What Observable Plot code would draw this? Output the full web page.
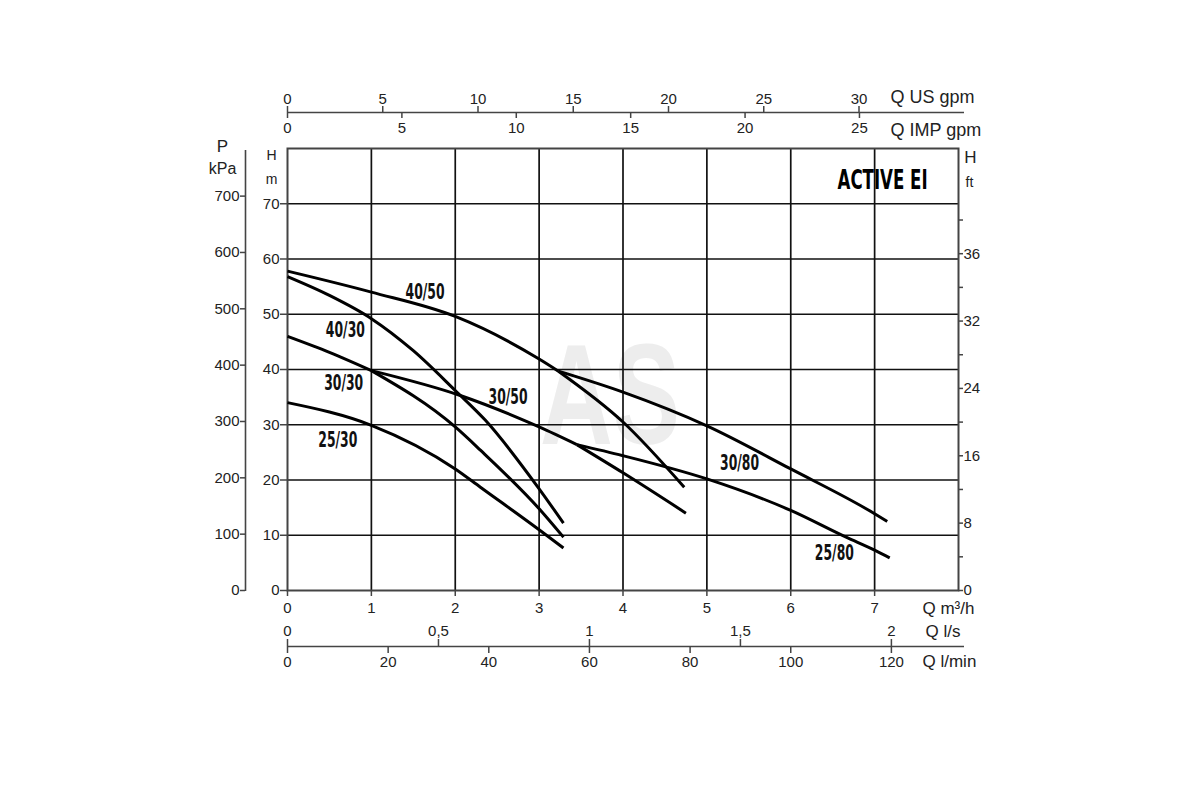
<!DOCTYPE html>
<html><head><meta charset="utf-8">
<script src="https://cdn.jsdelivr.net/npm/d3@7"></script>
<script src="https://cdn.jsdelivr.net/npm/@observablehq/plot@0.6"></script>
<style>html,body{margin:0;padding:0;background:#fff;} #chart svg{display:block;}</style>
</head><body><div id="chart"></div>
<script>
// ---------- tick values / labels ----------
const qTicks = [0, 1, 2, 3, 4, 5, 6, 7];            // Q m3/h
const qGrid = [1, 2, 3, 4, 5, 6, 7];
const hTicks = [0, 10, 20, 30, 40, 50, 60, 70];       // H m
const hGrid = [10, 20, 30, 40, 50, 60, 70];
const kpaTicks = [0, 100, 200, 300, 400, 500, 600, 700];
const ftTicks = [0, 20, 40, 60, 80, 100, 120, 140, 160, 180, 200, 220];
const ftLabelled = [0, 40, 80, 120, 160, 200];
const ftLabels = ["0", "8", "16", "24", "32", "36"];
const usTicks = [0, 5, 10, 15, 20, 25, 30];
const impTicks = [0, 5, 10, 15, 20, 25];
const lsTicks = [0, 0.5, 1, 1.5, 2];
const lminTicks = [0, 20, 40, 60, 80, 100, 120];

// unit conversions to the chart's base units (m3/h and m)
const US_GPM = 0.227125, IMP_GPM = 0.272766, LS = 3.6, LMIN = 0.06, KPA_M = 1 / 9.80665, FT_M = 0.3048;

// ---------- curves (Q m3/h, H m), drawn as trunk + branches ----------
const qTop = [0, 1, 2, 3, 3.23];            const hTop = [57.8, 54.0, 49.6, 41.9, 39.7];
const q4050 = [3.23, 4, 4.73];              const h4050 = [39.7, 30.5, 18.7];
const q3080 = [3.23, 4, 5, 6, 7, 7.15];     const h3080 = [39.7, 35.9, 29.8, 22.0, 13.9, 12.5];
const q4030 = [0, 0.5, 1, 1.5, 2, 2.36, 3, 3.29];
const h4030 = [56.8, 53.4, 49.2, 43.4, 36.2, 30.8, 18.4, 12.2];
const q30 = [0, 0.5, 1];                     const h30 = [46.0, 43.1, 39.8];
const q3030 = [1, 2, 2.3, 3, 3.29];          const h3030 = [39.8, 29.6, 25.4, 14.8, 9.65];
const q3050a = [1, 2.06, 3, 3.45];           const h3050a = [39.8, 35.3, 29.6, 26.4];
const q3050 = [3.45, 4, 4.75];               const h3050 = [26.4, 21.3, 14.0];
const q2580 = [3.45, 4, 5, 6, 6.66, 7, 7.18]; const h2580 = [26.4, 24.4, 20.2, 14.5, 9.65, 7.3, 5.9];
const q2530 = [0, 1, 2, 2.3, 3, 3.29];       const h2530 = [34.0, 29.9, 22.0, 18.7, 11.0, 7.7];

const segNames = ["top", "40/50", "30/80", "40/30", "30", "30/30", "30/50 trunk", "30/50", "25/80", "25/30"];
const segQ = [qTop, q4050, q3080, q4030, q30, q3030, q3050a, q3050, q2580, q2530];
const segH = [hTop, h4050, h3080, h4030, h30, h3030, h3050a, h3050, h2580, h2530];

// curve labels
const labelNames = ["40/50", "40/30", "30/30", "25/30", "30/50", "30/80", "25/80"];
const labelQ = [1.64, 0.69, 0.67, 0.6, 2.63, 5.39, 6.52];
const labelH = [53.9, 47.1, 37.5, 27.2, 34.9, 23.0, 6.7];

// chart title and watermark
const titleText = ["ACTIVE EI"], titleQ = [7.095], titleH = [74.2];
const markText = ["AS"], markQ = [3.845], markH = [34.75];

// ---------- layout ----------
const W = 1200, HT = 800, L = 287, R = 958, T = 148, B = 590;
const FH = B - T, FW = R - L;
const INK = "#222";

const rows = segNames.flatMap((name, i) => segQ[i].map((q, j) => ({name, q, h: segH[i][j]})));
const fmtComma = d => String(d).replace(".", ",");

const txt = {fill: INK, fontSize: 15, fontFamily: "Liberation Sans, Arial, sans-serif", lineAnchor: "middle"};
const COND = "DejaVu Sans Condensed, DejaVu Sans, sans-serif";

const plot = Plot.plot({
  width: W, height: HT,
  marginLeft: L, marginRight: W - R, marginTop: T, marginBottom: HT - B,
  x: {domain: [0, 8], axis: null},
  y: {domain: [0, 80], axis: null},
  style: {background: "#fff", fontFamily: "Liberation Sans, Arial, sans-serif", overflow: "visible"},
  marks: [
    // watermark
    Plot.text(markText, {x: (d, i) => markQ[i], y: (d, i) => markH[i], text: d => d, fill: "#ededed",
      fontSize: 142, fontWeight: "bold", fontFamily: "Liberation Sans, Arial, sans-serif"}),
    // grid
    Plot.ruleX(qGrid, {stroke: "#111", strokeWidth: 1.7}),
    Plot.ruleY(hGrid, {stroke: "#111", strokeWidth: 1.7}),
    Plot.frame({stroke: "#444", strokeWidth: 2}),

    // bottom Q m3/h axis
    Plot.ruleX(qTicks, {insetTop: FH, insetBottom: -6, stroke: "#444", strokeWidth: 1.5}),
    Plot.text(qTicks, {x: d => d, text: d => String(d), frameAnchor: "bottom", dy: 18, textAnchor: "middle", ...txt}),
    Plot.text(["Q m³/h"], {frameAnchor: "bottom-right", dx: -36, dy: 18, textAnchor: "start", ...txt, fontSize: 17}),

    // l/s and l/min axis
    Plot.ruleY([0], {dy: 56, insetRight: -6, stroke: "#444", strokeWidth: 1.6}),
    Plot.ruleX(lsTicks, {x: d => d * LS, insetTop: FH + 49, insetBottom: -56, stroke: "#444", strokeWidth: 1.5}),
    Plot.text(lsTicks, {x: d => d * LS, text: fmtComma, frameAnchor: "bottom", dy: 41, textAnchor: "middle", ...txt}),
    Plot.ruleX(lminTicks, {x: d => d * LMIN, insetTop: FH + 56, insetBottom: -63, stroke: "#444", strokeWidth: 1.5}),
    Plot.text(lminTicks, {x: d => d * LMIN, text: d => String(d), frameAnchor: "bottom", dy: 72, textAnchor: "middle", ...txt}),
    Plot.text(["Q l/s"], {frameAnchor: "bottom-right", dx: -33, dy: 41, textAnchor: "start", ...txt, fontSize: 17}),
    Plot.text(["Q l/min"], {frameAnchor: "bottom-right", dx: -36, dy: 71, textAnchor: "start", ...txt, fontSize: 17}),

    // top US gpm / IMP gpm axis
    Plot.ruleY([80], {dy: -36, insetRight: -6, stroke: "#444", strokeWidth: 1.6}),
    Plot.ruleX(usTicks, {x: d => d * US_GPM, insetTop: -42, insetBottom: FH + 36, stroke: "#444", strokeWidth: 1.5}),
    Plot.ruleX(impTicks, {x: d => d * IMP_GPM, insetTop: -36, insetBottom: FH + 30, stroke: "#444", strokeWidth: 1.5}),
    Plot.text(usTicks, {x: d => d * US_GPM, text: d => String(d), frameAnchor: "top", dy: -49, textAnchor: "middle", ...txt}),
    Plot.text(impTicks, {x: d => d * IMP_GPM, text: d => String(d), frameAnchor: "top", dy: -20, textAnchor: "middle", ...txt}),
    Plot.text(["Q US gpm"], {frameAnchor: "top-right", dx: -68, dy: -51, textAnchor: "start", ...txt, fontSize: 18}),
    Plot.text(["Q IMP gpm"], {frameAnchor: "top-right", dx: -68, dy: -18, textAnchor: "start", ...txt, fontSize: 18}),

    // left H m axis
    Plot.ruleY(hTicks, {y: d => d, insetLeft: -7, insetRight: FW, stroke: "#444", strokeWidth: 1.5}),
    Plot.text(hTicks, {y: d => d, text: d => String(d), frameAnchor: "left", dx: -8, textAnchor: "end", ...txt}),
    Plot.text(["H"], {frameAnchor: "top-left", dx: -16, dy: 7, textAnchor: "middle", ...txt, fontSize: 14}),
    Plot.text(["m"], {frameAnchor: "top-left", dx: -16, dy: 31, textAnchor: "middle", ...txt, fontSize: 14}),

    // left P kPa axis
    Plot.ruleX([0], {dx: -42, insetTop: 2, insetBottom: -1, stroke: "#444", strokeWidth: 1.6}),
    Plot.ruleY(kpaTicks, {y: d => d * KPA_M, insetLeft: -47, insetRight: FW + 42, stroke: "#444", strokeWidth: 1.5}),
    Plot.text(kpaTicks, {y: d => d * KPA_M, text: d => String(d), frameAnchor: "left", dx: -48, textAnchor: "end", ...txt}),
    Plot.text(["P"], {frameAnchor: "top-left", dx: -65, dy: -2, textAnchor: "middle", ...txt, fontSize: 17}),
    Plot.text(["kPa"], {frameAnchor: "top-left", dx: -65, dy: 20, textAnchor: "middle", ...txt, fontSize: 16}),

    // right H ft axis
    Plot.ruleY(ftTicks, {y: d => d * FT_M, insetLeft: FW, insetRight: -5, stroke: "#444", strokeWidth: 1.5}),
    Plot.text(ftLabelled, {y: d => d * FT_M, text: (d, i) => ftLabels[i], frameAnchor: "right", dx: 5, textAnchor: "start", ...txt}),
    Plot.text(["H"], {frameAnchor: "top-right", dx: 12, dy: 9, textAnchor: "middle", ...txt, fontSize: 17}),
    Plot.text(["ft"], {frameAnchor: "top-right", dx: 11, dy: 34, textAnchor: "middle", ...txt, fontSize: 14}),

    // pump curves
    Plot.line(rows, {x: "q", y: "h", z: "name", stroke: "#000", strokeWidth: 3, curve: "monotone-x", strokeLinecap: "butt"}),

    // curve labels
    Plot.text(labelNames, {x: (d, i) => labelQ[i], y: (d, i) => labelH[i], text: d => d, fill: "#111",
      fontSize: 21, fontWeight: "bold", fontFamily: COND}),

    // title
    Plot.text(titleText, {x: (d, i) => titleQ[i], y: (d, i) => titleH[i], text: d => d, fill: "#000",
      fontSize: 27, fontWeight: "bold", fontFamily: COND})
  ]
});

// condensed lettering like the original
d3.select(plot).selectAll("text").each(function () {
  const s = this.textContent;
  if (labelNames.includes(s)) { this.setAttribute("textLength", 39); this.setAttribute("lengthAdjust", "spacingAndGlyphs"); this.style.fontStretch = "condensed"; }
  else if (titleText.includes(s)) { this.setAttribute("textLength", 90); this.setAttribute("lengthAdjust", "spacingAndGlyphs"); this.style.fontStretch = "condensed"; }
  else if (markText.includes(s)) { this.setAttribute("textLength", 140); this.setAttribute("lengthAdjust", "spacingAndGlyphs"); }
});

document.getElementById("chart").appendChild(plot);
</script></body></html>
